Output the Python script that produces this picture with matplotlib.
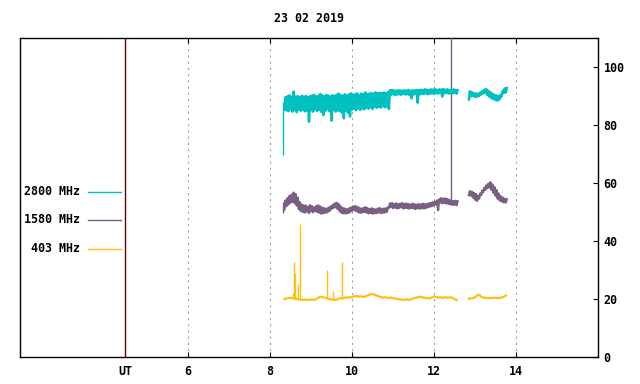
import numpy as np
import matplotlib
matplotlib.use("Agg")
import matplotlib.pyplot as plt

plt.rcParams['font.family'] = ['DejaVu Sans Mono']
plt.rcParams['font.weight'] = 'bold'
plt.rcParams['lines.scale_dashes'] = False

title = "23 02 2019"
labels = ["2800 MHz", "1580 MHz", "403 MHz"]
colors = ["#00c0c0", "#7a6080", "#ffc010"]
xticks = [6, 8, 10, 12, 14]
yticks = [0, 20, 40, 60, 80, 100]
ut_pos = 4.46

step = 0.05
seg1_start = 8.35
seg2_start = 12.85

# 2800 MHz band (low / high per sample)
c_hi1 = [89.6, 89.9, 90.2, 89.7, 91.5, 89.8, 90.0, 89.6, 90.1, 89.8, 90.0, 89.7,
         89.9, 90.2, 90.4, 89.8, 90.1, 90.7, 90.2, 89.9, 90.4, 90.1, 89.8, 90.3,
         90.0, 90.5, 90.8, 90.3, 90.1, 90.6, 90.2, 90.5, 90.9, 90.4, 90.6, 90.9,
         90.3, 90.8, 90.7, 91.2, 90.6, 90.9, 91.0, 90.8, 91.3, 90.9, 91.1, 91.0,
         91.2, 91.0, 91.3, 92.0,
         92.1, 91.9, 91.8, 92.0, 91.9, 91.8, 92.0, 91.9, 92.1, 91.8, 92.0, 91.9,
         92.1, 92.0, 92.2, 92.1, 92.3, 92.2, 92.0, 92.3, 92.2, 92.4, 92.1, 92.3,
         92.2, 92.4, 92.2, 92.3, 92.1, 92.2, 92.3, 92.1, 92.0]
c_lo1 = [85.3, 85.0, 84.8, 85.4, 84.6, 85.2, 84.4, 85.3, 84.9, 85.3, 84.7, 85.0,
         81.1, 85.1, 84.6, 85.4, 84.8, 85.2, 84.5, 83.4, 84.9, 85.5, 84.7, 81.5,
         85.3, 84.6, 85.0, 84.8, 84.3, 82.3, 85.0, 84.2, 82.9, 85.4, 85.6, 85.1,
         85.8, 85.2, 85.7, 85.4, 86.0, 85.6, 86.1, 85.5, 86.3, 85.9, 86.2, 86.0,
         86.5, 86.1, 86.4, 85.5,
         90.4, 90.6, 90.3, 90.5, 90.6, 90.4, 90.7, 90.5, 90.6, 90.3, 89.2, 90.5,
         90.7, 87.7, 90.6, 90.8, 90.7, 90.9, 90.6, 90.8, 90.9, 90.7, 91.0, 90.8,
         91.0, 89.8, 90.9, 91.1, 90.8, 91.0, 90.9, 91.1, 90.8]
c_hi2 = [91.6, 91.3, 91.0, 90.9, 90.8, 91.2, 91.7, 92.2, 92.4, 91.8, 91.3, 90.8,
         90.4, 90.2, 90.0, 90.4, 91.8, 92.6, 92.8]
c_lo2 = [88.8, 89.9, 90.1, 89.6, 89.8, 90.0, 90.5, 90.9, 91.0, 90.4, 89.8, 89.2,
         88.9, 88.6, 88.4, 88.9, 89.9, 91.0, 91.2]
c_spike_t = [8.32]
c_spike_lo = [69.7]
c_spike_hi = [88.0]

# 1580 MHz band
p_hi1 = [54.0, 54.8, 55.6, 56.0, 56.7, 56.2, 55.0, 53.4, 52.6, 52.3,
         52.2, 51.8, 52.4, 52.0, 51.6, 52.1, 52.3, 51.9, 51.5, 51.3,
         51.2, 51.5, 51.9, 52.4, 53.0, 53.2, 52.8, 52.0, 51.4, 51.2,
         51.0, 51.3, 51.6, 51.9, 52.1, 51.8, 51.5, 51.2, 51.4, 51.7,
         51.4, 51.0, 51.3, 51.1, 50.9, 51.2, 51.4, 51.0, 51.2, 51.3,
         51.6, 53.0, 53.1, 52.8, 53.0, 52.7, 52.9, 53.1, 52.8, 52.9,
         52.8, 52.6, 52.9, 52.7, 52.5, 52.8, 52.6, 52.9, 52.7, 52.8,
         53.0, 53.2, 53.4, 53.6, 54.0, 54.4, 54.8, 54.6, 54.7, 54.5,
         54.2, 54.0, 53.8, 53.9, 53.7]
p_lo1 = [50.8, 52.0, 52.6, 53.2, 53.5, 53.0, 52.2, 51.0, 50.3, 50.0,
         49.8, 50.1, 49.6, 50.2, 49.9, 50.3, 50.0, 49.7, 49.4, 49.6,
         49.7, 49.9, 50.3, 51.0, 51.4, 51.6, 51.0, 50.2, 49.6, 49.5,
         49.5, 49.6, 49.9, 50.4, 50.6, 50.3, 49.9, 49.7, 49.8, 50.0,
         49.8, 49.5, 49.7, 49.4, 49.5, 49.6, 49.8, 49.6, 49.7, 49.8,
         50.0, 51.4, 51.6, 51.3, 51.5, 51.2, 51.4, 51.6, 51.2, 51.4,
         51.3, 51.1, 51.4, 51.2, 51.0, 51.3, 51.1, 51.3, 51.2, 51.3,
         51.6, 51.8, 52.0, 52.2, 52.6, 50.6, 53.2, 53.0, 53.1, 52.9,
         52.8, 52.6, 52.4, 52.5, 52.3]
p_hi2 = [57.2, 57.0, 56.6, 56.2, 55.6, 56.4, 57.4, 58.4, 59.2, 59.8,
         60.3, 59.5, 58.6, 57.6, 56.4, 55.5, 55.0, 54.6, 54.4]
p_lo2 = [55.8, 55.6, 55.0, 54.2, 53.8, 54.6, 55.8, 56.8, 57.6, 58.2,
         58.4, 57.6, 56.6, 55.6, 54.6, 54.0, 53.6, 53.3, 53.2]
p_spike_t = [8.32, 12.42]
p_spike_lo = [49.5, 53.0]
p_spike_hi = [53.5, 118.0]

# 403 MHz
g_val1 = [20.0, 20.2, 20.3, 20.4, 20.3, 20.2, 20.0, 19.8, 19.7, 19.7,
          19.8, 19.7, 19.7, 19.8, 19.7, 19.8, 20.2, 20.6, 20.8, 20.6,
          20.4, 20.2, 20.0, 19.8, 19.7, 19.7, 19.9, 20.3, 20.2, 20.4,
          20.5, 20.6, 20.5, 20.7, 20.9, 21.0, 20.8, 20.9, 20.8, 20.7,
          21.0, 21.3, 21.6, 21.7, 21.5, 21.2, 20.9, 20.7, 20.5, 20.6,
          20.5, 20.4, 20.5, 20.3, 20.2, 20.0, 19.9, 19.8, 19.7, 19.8,
          19.9, 19.7, 19.9, 20.2, 20.4, 20.6, 20.8, 20.6, 20.5, 20.3,
          20.4, 20.2, 20.6, 20.9, 20.7, 20.5, 20.6, 20.4, 20.6, 20.5,
          20.5, 20.6, 20.4, 20.0, 19.6]
g_val2 = [20.1, 20.2, 20.3, 20.6, 21.2, 21.5, 20.8, 20.5, 20.4, 20.4,
          20.3, 20.4, 20.4, 20.4, 20.3, 20.4, 20.5, 20.8, 21.2]
g_spike_t = [8.55, 8.59, 8.61, 8.67, 8.74, 9.40, 9.54, 9.76]
g_spike_hi = [21.9, 32.9, 29.0, 25.2, 45.9, 30.0, 22.8, 32.9]
g_spike_base = 20.0

fig = plt.figure(figsize=(6.4, 3.84), dpi=100)
W, H = 640, 384
L, R, T, B = 20, 598, 38, 357
ax = fig.add_axes([L / W, 1 - B / H, (R - L) / W, (B - T) / H])
ax.set_xlim(1.9, 16.0)
ax.set_ylim(0, 110)


def zig(start, lo, hi):
    n = len(lo)
    t = start + step * np.arange(n)
    tt = np.empty(2 * n)
    vv = np.empty(2 * n)
    tt[0::2] = t
    tt[1::2] = t + step / 2
    vv[0::2] = lo
    vv[1::2] = hi
    return tt, vv


for x in xticks:
    ax.axvline(x, color="#a0a0a0", lw=0.8, linestyle=(0, (1.5, 3)), zorder=1)
ax.axvline(ut_pos, color="#6a0000", lw=1.0, zorder=1)

# 403 MHz
for start, vals in [(seg1_start, g_val1), (seg2_start, g_val2)]:
    t = start + step * np.arange(len(vals))
    ax.plot(t, vals, color=colors[2], lw=1.6, zorder=3)
ax.vlines(g_spike_t, g_spike_base, g_spike_hi, color=colors[2], lw=1.0, zorder=3)

# 1580 MHz
for start, lo, hi in [(seg1_start, p_lo1, p_hi1), (seg2_start, p_lo2, p_hi2)]:
    tt, vv = zig(start, lo, hi)
    ax.plot(tt, vv, color=colors[1], lw=1.6, zorder=3)
ax.vlines(p_spike_t, p_spike_lo, p_spike_hi, color=colors[1], lw=1.0, zorder=3)

# 2800 MHz
for start, lo, hi in [(seg1_start, c_lo1, c_hi1), (seg2_start, c_lo2, c_hi2)]:
    tt, vv = zig(start, lo, hi)
    ax.plot(tt, vv, color=colors[0], lw=1.8, zorder=3)
ax.vlines(c_spike_t, c_spike_lo, c_spike_hi, color=colors[0], lw=1.0, zorder=3)

for s in ax.spines.values():
    s.set_color("black")
    s.set_linewidth(1.0)

ax.set_xticks(xticks)
ax.set_xticklabels([str(x) for x in xticks])
ax.tick_params(axis='x', direction='in', length=3.5, width=0.8, top=True,
               bottom=True, labelsize=8.4, pad=5.5)
ax.yaxis.tick_right()
ax.set_yticks(yticks)
ax.set_yticklabels([str(y) for y in yticks])
ax.tick_params(axis='y', direction='in', length=3.5, width=0.8, left=False,
               right=True, labelsize=8.4, pad=4)

ax.text(ut_pos, -2.6, "UT", ha='center', va='top', fontsize=8.4,
        fontweight='bold')

fig.text((L + R) / 2 / W, 1 - 19 / H, title, ha='center', va='center',
         fontsize=8.4, fontweight='bold')

leg_y = [191.5, 219.5, 248.5]
for lab, col, yp in zip(labels, colors, leg_y):
    yf = (B - yp) / (B - T)
    ax.text((80 - L) / (R - L), yf, lab, transform=ax.transAxes, ha='right',
            va='center', fontsize=8.4, fontweight='bold')
    ax.plot([(88 - L) / (R - L), (121 - L) / (R - L)], [yf, yf],
            transform=ax.transAxes, color=col, lw=1.0, clip_on=False)

fig.savefig("out.png", dpi=100)
